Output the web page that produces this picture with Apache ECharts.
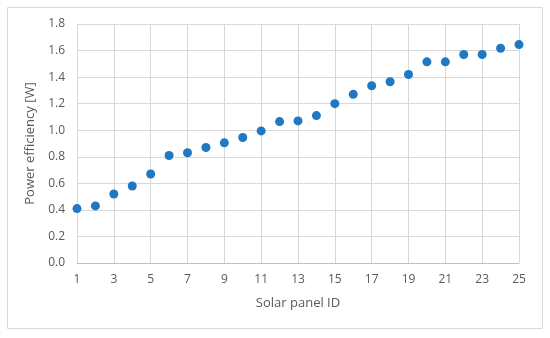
<!DOCTYPE html>
<html>
<head>
<meta charset="utf-8">
<script src="https://cdn.jsdelivr.net/npm/echarts@6/dist/echarts.min.js"></script>
<style>html,body{margin:0;padding:0;background:#fff;}#c{width:550px;height:338px;}</style>
</head>
<body>
<div id="c"></div>
<script>
const panelIds = [1,2,3,4,5,6,7,8,9,10,11,12,13,14,15,16,17,18,19,20,21,22,23,24,25];
const efficiency = [0.41,0.43,0.52,0.58,0.67,0.81,0.83,0.87,0.905,0.945,0.995,1.065,1.07,1.11,1.20,1.27,1.335,1.365,1.42,1.515,1.515,1.57,1.57,1.617,1.645];
const xTitle = 'Solar panel ID';
const yTitle = 'Power efficiency [W]';

const chart = echarts.init(document.getElementById('c'), null, {renderer:'canvas'});
const font = "'Open Sans', 'Liberation Sans', sans-serif";
chart.setOption({
  animation: false,
  graphic: [{
    type: 'rect', shape: {x: 7.5, y: 7.5, width: 535, height: 321},
    style: {fill: 'none', stroke: '#d9d9d9', lineWidth: 1}, z: -1
  }],
  grid: {left: 77, right: 31, top: 24, bottom: 75},
  xAxis: {
    type: 'value', min: 1, max: 25, interval: 2,
    name: xTitle, nameLocation: 'middle', nameGap: 34,
    nameTextStyle: {fontFamily: font, fontSize: 13, color: '#595959'},
    axisLine: {show: true, lineStyle: {color: '#bfbfbf', width: 1}},
    axisTick: {show: false},
    axisLabel: {fontFamily: font, fontSize: 12, color: '#595959', margin: 11},
    splitLine: {show: true, lineStyle: {color: '#d9d9d9', width: 1}}
  },
  yAxis: {
    type: 'value', min: 0, max: 1.8, interval: 0.2,
    name: yTitle, nameLocation: 'middle', nameGap: 35,
    nameTextStyle: {fontFamily: font, fontSize: 13, color: '#595959'},
    axisLine: {show: false},
    axisTick: {show: false},
    axisLabel: {fontFamily: font, fontSize: 12, color: '#595959', margin: 12,
      formatter: v => v.toFixed(1)},
    splitLine: {show: true, lineStyle: {color: '#d9d9d9', width: 1}}
  },
  series: [{
    type: 'scatter',
    data: panelIds.map((id, i) => [id, efficiency[i]]),
    symbol: 'circle', symbolSize: 9,
    itemStyle: {color: '#1F78C1', opacity: 1}
  }]
});
</script>
</body>
</html>
